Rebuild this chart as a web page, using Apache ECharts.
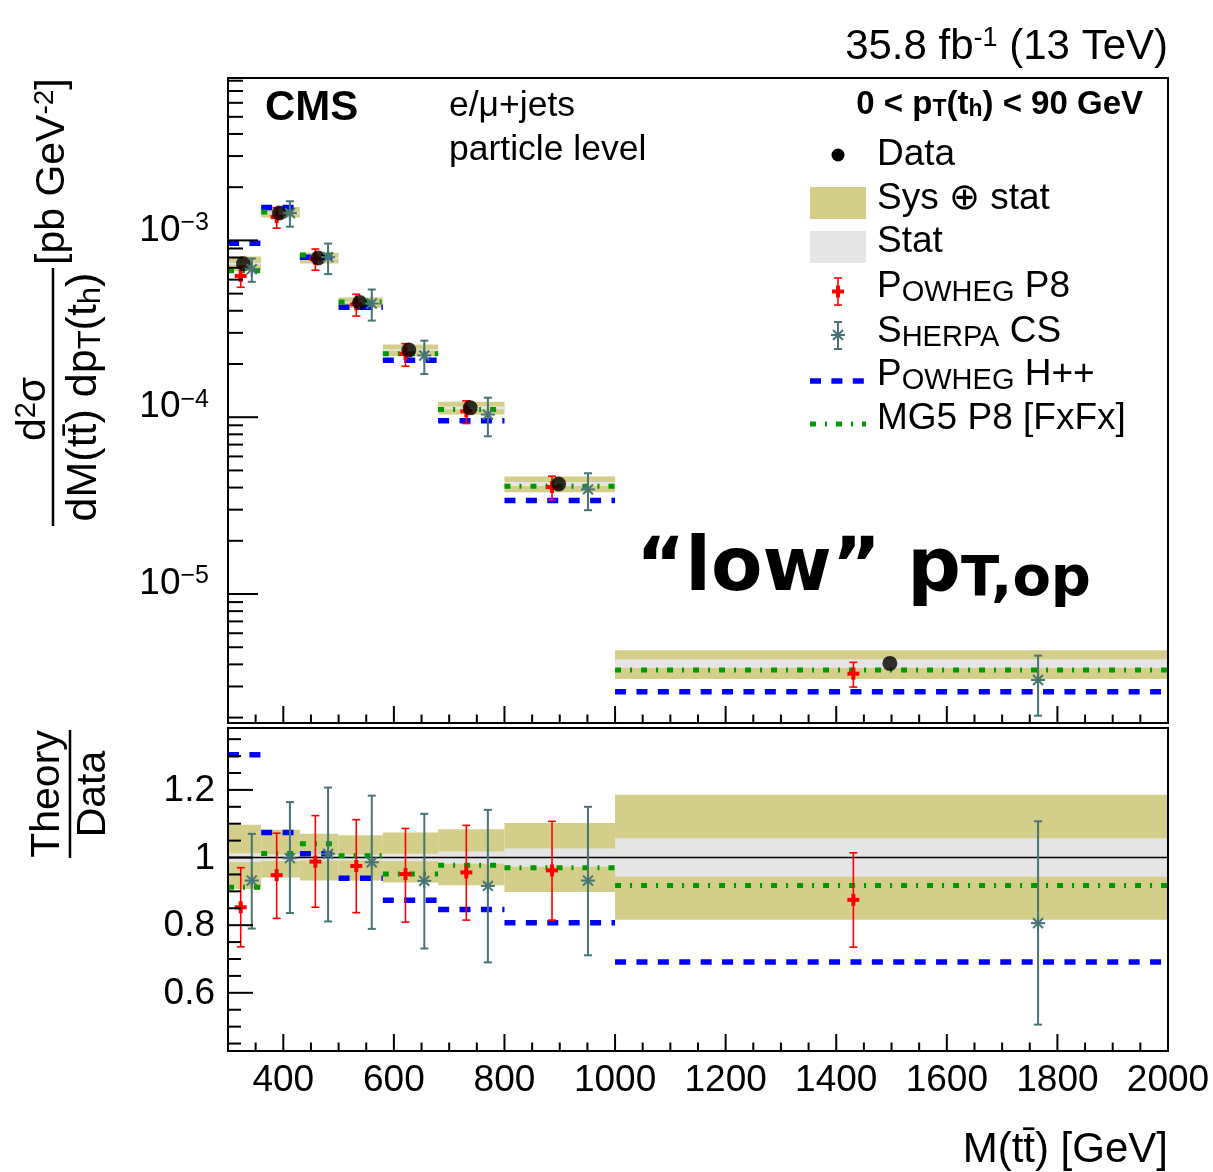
<!DOCTYPE html>
<html><head><meta charset="utf-8">
<script src="https://cdn.jsdelivr.net/npm/echarts@6/dist/echarts.min.js"></script>
<style>html,body{margin:0;padding:0;background:#fff}#c{width:1213px;height:1172px}</style>
</head><body><div id="c"></div>
<script>
// ---------------- data ----------------
const binEdges = [300, 360, 430, 500, 580, 680, 800, 1000, 2000];
const dataX = [328, 393, 463, 538, 627, 738, 898, 1497];
const dataY = [7.38e-4, 1.43e-3, 7.95e-4, 4.46e-4, 2.40e-4, 1.13e-4, 4.19e-5, 4.05e-6];
// uncertainty bands, relative to data
const sysUp = [1.097, 1.082, 1.070, 1.066, 1.074, 1.084, 1.102, 1.186];
const sysDn = [0.907, 0.941, 0.932, 0.932, 0.926, 0.918, 0.898, 0.816];
const statUp = [1.013, 1.010, 1.009, 1.009, 1.011, 1.018, 1.027, 1.057];
const statDn = [0.987, 0.990, 0.991, 0.991, 0.989, 0.982, 0.973, 0.943];
// POWHEG P8 (theory / data)
const p8X = [323, 388, 458, 532, 621, 731, 886, 1431];
const p8Ratio = [0.853, 0.948, 0.988, 0.975, 0.951, 0.956, 0.962, 0.875];
const p8Lo = [0.736, 0.820, 0.853, 0.837, 0.809, 0.815, 0.815, 0.735];
const p8Hi = [0.970, 1.072, 1.124, 1.112, 1.086, 1.095, 1.107, 1.014];
// SHERPA CS (theory / data)
const shX = [343, 412, 481, 560, 655, 770, 951, 1765];
const shRatio = [0.932, 0.998, 1.011, 0.986, 0.931, 0.916, 0.932, 0.806];
const shLo = [0.790, 0.836, 0.811, 0.789, 0.731, 0.690, 0.711, 0.506];
const shHi = [1.070, 1.164, 1.207, 1.183, 1.129, 1.141, 1.150, 1.107];
// POWHEG H++ and MG5 P8 [FxFx] (theory / data)
const hppRatio = [1.304, 1.074, 1.011, 0.939, 0.874, 0.846, 0.807, 0.691];
const mg5Ratio = [0.912, 1.012, 1.041, 1.005, 0.951, 0.977, 0.970, 0.917];
// tick labels
const xTickLabels = [400, 600, 800, 1000, 1200, 1400, 1600, 1800, 2000];
const topDecades = [-5, -4, -3];
const ratioTickLabels = [0.6, 0.8, 1, 1.2];

// ---------------- styling ----------------
const FONT = '"Liberation Sans", Arial, Helvetica, sans-serif';
const WIDE = '"DejaVu Sans", Verdana, sans-serif';
const OLIVE = '#d3ce89', GREY = '#e5e5e5', RED = '#ff0000', TEAL = '#477575', BLUE = '#0000ff', GREEN = '#009900';
const X_MIN = 300, X_MAX = 2000;
const TOP_MIN = 1.864e-6, TOP_MAX = 8.29e-3;
const R_MIN = 0.428, R_MAX = 1.383;
const BLUE_DASH = [11, 10.4], GREEN_DASH = [6, 9, 2, 9];

const times = (a, b) => a.map((v, i) => v * b[i]);

function bandSeries(xi, yi, lo, hi, color, z) {
  return {
    type: 'custom', xAxisIndex: xi, yAxisIndex: yi, clip: false, silent: true, z,
    data: lo.map((v, i) => [binEdges[i], binEdges[i + 1], v, hi[i]]),
    renderItem(p, api) {
      const a = api.coord([api.value(0), api.value(3)]);
      const b = api.coord([api.value(1), api.value(2)]);
      return { type: 'rect', shape: { x: a[0], y: a[1], width: b[0] - a[0], height: b[1] - a[1] }, style: { fill: color } };
    }
  };
}
function histSeries(xi, yi, vals, color, dash, width, z) {
  return {
    type: 'custom', xAxisIndex: xi, yAxisIndex: yi, clip: false, silent: true, z,
    data: vals.map((v, i) => [binEdges[i], binEdges[i + 1], v]),
    renderItem(p, api) {
      const a = api.coord([api.value(0), api.value(2)]);
      const b = api.coord([api.value(1), api.value(2)]);
      return { type: 'line', shape: { x1: a[0], y1: a[1], x2: b[0], y2: b[1] },
        style: { stroke: color, lineWidth: width, lineDash: dash, lineCap: 'butt' } };
    }
  };
}
function markerEls(kind, cx, cy, ylo, yhi) {
  const color = kind === 'cross' ? RED : TEAL;
  const lw = kind === 'cross' ? 1.6 : 2;
  const cw = 4;
  const st = { stroke: color, lineWidth: lw };
  const els = [
    { type: 'line', shape: { x1: cx, y1: ylo, x2: cx, y2: yhi }, style: st },
    { type: 'line', shape: { x1: cx - cw, y1: ylo, x2: cx + cw, y2: ylo }, style: st },
    { type: 'line', shape: { x1: cx - cw, y1: yhi, x2: cx + cw, y2: yhi }, style: st }
  ];
  if (kind === 'cross') {
    els.push({ type: 'rect', shape: { x: cx - 6, y: cy - 2, width: 12, height: 4 }, style: { fill: color } });
    els.push({ type: 'rect', shape: { x: cx - 2, y: cy - 6, width: 4, height: 12 }, style: { fill: color } });
  } else {
    const r = 7;
    [0, 45, 90, 135].forEach(d => {
      const t = d * Math.PI / 180, dx = r * Math.cos(t), dy = r * Math.sin(t);
      els.push({ type: 'line', shape: { x1: cx - dx, y1: cy - dy, x2: cx + dx, y2: cy + dy }, style: { stroke: color, lineWidth: 2 } });
    });
  }
  return els;
}
function errSeries(xi, yi, xs, ys, los, his, kind, z) {
  return {
    type: 'custom', xAxisIndex: xi, yAxisIndex: yi, clip: false, silent: true, z,
    data: xs.map((x, i) => [x, ys[i], los[i], his[i]]),
    renderItem(p, api) {
      const c = api.coord([api.value(0), api.value(1)]);
      const lo = api.coord([api.value(0), api.value(2)]);
      const hi = api.coord([api.value(0), api.value(3)]);
      return { type: 'group', children: markerEls(kind, c[0], c[1], lo[1], hi[1]) };
    }
  };
}
// ticks: kind 0 x-minor, 1 x-major, 2 y-minor, 3 y-major
function tickSeries(xi, yi, items, lens) {
  return {
    type: 'custom', xAxisIndex: xi, yAxisIndex: yi, clip: false, silent: true, z: 20,
    data: items,
    renderItem(p, api) {
      const pt = api.coord([api.value(0), api.value(1)]);
      const k = api.value(2), L = lens[k];
      const shape = k >= 2 ? { x1: pt[0], y1: pt[1], x2: pt[0] + L, y2: pt[1] } : { x1: pt[0], y1: pt[1], x2: pt[0], y2: pt[1] - L };
      return { type: 'line', shape, style: { stroke: '#000', lineWidth: 2 } };
    }
  };
}
function frameSeries(xi, yi, ymin, ymax) {
  return {
    type: 'custom', xAxisIndex: xi, yAxisIndex: yi, clip: false, silent: true, z: 21,
    data: [[X_MIN, ymax, X_MAX, ymin]],
    renderItem(p, api) {
      const a = api.coord([api.value(0), api.value(1)]);
      const b = api.coord([api.value(2), api.value(3)]);
      return { type: 'rect', shape: { x: a[0], y: a[1], width: b[0] - a[0], height: b[1] - a[1] }, style: { fill: null, stroke: '#000', lineWidth: 2 } };
    }
  };
}

// tick positions
const xTicks = (ybase) => {
  const out = [];
  for (let v = 350; v < X_MAX; v += 50) out.push([v, ybase, v % 200 === 0 ? 1 : 0]);
  return out;
};
const topYTicks = [];
for (let e = -6; e <= -3; e++) for (let m = 1; m <= 9; m++) {
  const v = m * Math.pow(10, e);
  if (v > TOP_MIN && v < TOP_MAX) topYTicks.push([X_MIN, v, m === 1 ? 3 : 2]);
}
const ratioYTicks = [];
for (let k = 9; k <= 27; k++) ratioYTicks.push([X_MIN, k * 0.05, k % 4 === 0 ? 3 : 2]);

const topLabelSeries = {
  type: 'custom', xAxisIndex: 0, yAxisIndex: 0, clip: false, silent: true, z: 20,
  data: topDecades.map(e => [X_MIN, Math.pow(10, e), e]),
  renderItem(p, api) {
    const pt = api.coord([api.value(0), api.value(1)]);
    return { type: 'text', x: pt[0] - 19, y: pt[1] - 10, style: {
      text: '{b|10}{s|\u2212' + Math.abs(api.value(2)) + '}', align: 'right', verticalAlign: 'middle',
      rich: { b: { fontSize: 37, fontFamily: FONT, lineHeight: 40, fill: '#000' },
              s: { fontSize: 25, fontFamily: FONT, lineHeight: 25, verticalAlign: 'top', fill: '#000' } } } };
  }
};
const ratioLabelSeries = {
  type: 'custom', xAxisIndex: 1, yAxisIndex: 1, clip: false, silent: true, z: 20,
  data: ratioTickLabels.map(v => [X_MIN, v]),
  renderItem(p, api) {
    const pt = api.coord([api.value(0), api.value(1)]);
    return { type: 'text', x: pt[0] - 13, y: pt[1] + 1, style: {
      text: String(api.value(1)), align: 'right', verticalAlign: 'middle', fontSize: 37, fontFamily: FONT, fill: '#000' } };
  }
};
const unitLine = {
  type: 'custom', xAxisIndex: 1, yAxisIndex: 1, clip: false, silent: true, z: 3,
  data: [[X_MIN, X_MAX, 1]],
  renderItem(p, api) {
    const a = api.coord([api.value(0), api.value(2)]), b = api.coord([api.value(1), api.value(2)]);
    return { type: 'line', shape: { x1: a[0], y1: a[1], x2: b[0], y2: b[1] }, style: { stroke: '#000', lineWidth: 1.5 } };
  }
};

// ---------------- graphic texts / legend ----------------
const T = (x, y, text, extra) => ({ type: 'text', x, y, silent: true, z: 50,
  style: Object.assign({ text, fontFamily: FONT, fontSize: 37, fill: '#000', align: 'left', verticalAlign: 'middle' }, extra || {}) });
const rs = (fs, o) => Object.assign({ fontSize: fs, fontFamily: FONT, fill: '#000', lineHeight: fs }, o || {});

const legendText = (y, text, rich) => T(877, y, text, rich ? { rich } : {});
const smallCaps = { a: rs(37, { lineHeight: 40 }), c: rs(29, { lineHeight: 29, verticalAlign: 'bottom' }) };

const graphics = [
  // header
  T(1168, 47, '{n|35.8 fb}{s|-1}{n| (13 TeV)}', { align: 'right',
    rich: { n: rs(42, { lineHeight: 44 }), s: rs(27, { lineHeight: 27, verticalAlign: 'top' }) } }),
  T(265, 108, 'CMS', { fontSize: 42, fontWeight: 'bold' }),
  T(449, 106, 'e/\u03bc+jets', { fontSize: 35.5 }),
  T(449, 150, 'particle level', { fontSize: 35.5 }),
  T(1143, 104, '{b|0 < p}{u|T}{b|(t}{u|h}{b|) < 90 GeV}', { align: 'right',
    rich: { b: rs(33, { fontWeight: 'bold', lineHeight: 34, verticalAlign: 'bottom' }), u: rs(23, { fontWeight: 'bold', lineHeight: 2, verticalAlign: 'bottom' }) } }),
  // legend
  { type: 'circle', shape: { cx: 838, cy: 155, r: 6.5 }, style: { fill: '#000' }, z: 50 },
  legendText(155, 'Data'),
  { type: 'rect', shape: { x: 810, y: 187, width: 56, height: 32 }, style: { fill: OLIVE }, z: 50 },
  legendText(199, 'Sys \u2295 stat'),
  { type: 'rect', shape: { x: 810, y: 231, width: 56, height: 32 }, style: { fill: GREY }, z: 50 },
  legendText(242, 'Stat'),
  { type: 'group', z: 50, children: markerEls('cross', 838, 291.5, 305, 278) },
  legendText(287, '{a|P}{c|OWHEG}{a| P8}', smallCaps),
  { type: 'group', z: 50, children: markerEls('star', 838, 335, 349, 322) },
  legendText(332, '{a|S}{c|HERPA}{a| CS}', smallCaps),
  { type: 'line', shape: { x1: 810, y1: 381, x2: 866, y2: 381 }, style: { stroke: BLUE, lineWidth: 5.5, lineDash: BLUE_DASH }, z: 50 },
  legendText(375, '{a|P}{c|OWHEG}{a| H++}', smallCaps),
  { type: 'line', shape: { x1: 810, y1: 424, x2: 866, y2: 424 }, style: { stroke: GREEN, lineWidth: 5, lineDash: GREEN_DASH }, z: 50 },
  legendText(419, 'MG5 P8 [FxFx]'),
  // big label
  T(636, 563, '{b|\u201clow\u201d p}{u|T,op}', {
    rich: { b: { fontSize: 75, fontFamily: WIDE, fontWeight: 'bold', fill: '#000', lineHeight: 90, verticalAlign: 'bottom' },
            u: { fontSize: 56, fontFamily: WIDE, fontWeight: 'bold', fill: '#000', lineHeight: 68, verticalAlign: 'bottom' } } }),
  // x title
  T(1168, 1150, 'M(tt\u0304) [GeV]', { align: 'right', fontSize: 42 }),
  // y title (top)
  { type: 'group', x: 53, y: 397, rotation: Math.PI / 2, z: 50, children: [
    { type: 'line', shape: { x1: -129, y1: 0, x2: 129, y2: 0 }, style: { stroke: '#000', lineWidth: 2.5 } },
    { type: 'text', x: -12, y: -19, style: { text: '{n|d}{s|2}{n|\u03c3}', align: 'center', verticalAlign: 'middle',
      rich: { n: rs(41, { lineHeight: 44 }), s: rs(29, { lineHeight: 29, verticalAlign: 'top' }) } } },
    { type: 'text', x: 0, y: 31, style: { text: '{n|dM(tt\u0304) dp}{u|T}{n|(t}{u|h}{n|)}', align: 'center', verticalAlign: 'middle',
      rich: { n: rs(43, { lineHeight: 46 }), u: rs(31, { lineHeight: 26, verticalAlign: 'bottom' }) } } },
    { type: 'text', x: 132, y: 0, style: { text: '{n|[pb GeV}{s|-2}{n|]}', align: 'left', verticalAlign: 'middle',
      rich: { n: rs(41, { lineHeight: 44 }), s: rs(28, { lineHeight: 28, verticalAlign: 'top' }) } } }
  ] },
  // y title (ratio)
  { type: 'group', x: 70, y: 794, rotation: Math.PI / 2, z: 50, children: [
    { type: 'line', shape: { x1: -64, y1: 0, x2: 64, y2: 0 }, style: { stroke: '#000', lineWidth: 2.5 } },
    { type: 'text', x: 0, y: -22, style: { text: 'Theory', align: 'center', verticalAlign: 'middle', fontSize: 41, fontFamily: FONT, fill: '#000' } },
    { type: 'text', x: 0, y: 24, style: { text: 'Data', align: 'center', verticalAlign: 'middle', fontSize: 41, fontFamily: FONT, fill: '#000' } }
  ] }
];

// ---------------- option ----------------
const hidden = { axisLine: { show: false }, axisTick: { show: false }, axisLabel: { show: false }, splitLine: { show: false } };
const option = {
  animation: false,
  backgroundColor: '#fff',
  grid: [
    { left: 228, top: 78, width: 940, height: 645 },
    { left: 228, top: 728, width: 940, height: 323 }
  ],
  xAxis: [
    Object.assign({ type: 'value', gridIndex: 0, min: X_MIN, max: X_MAX, interval: 100 }, hidden),
    Object.assign({ type: 'value', gridIndex: 1, min: X_MIN, max: X_MAX, interval: 100 }, hidden, {
      axisLabel: { show: true, margin: 11, fontSize: 37, fontFamily: FONT, color: '#000',
        formatter: v => (xTickLabels.indexOf(v) >= 0 ? String(v) : '') } })
  ],
  yAxis: [
    Object.assign({ type: 'log', logBase: 10, gridIndex: 0, min: TOP_MIN, max: TOP_MAX }, hidden),
    Object.assign({ type: 'value', gridIndex: 1, min: R_MIN, max: R_MAX }, hidden)
  ],
  graphic: graphics,
  series: [
    // top panel
    bandSeries(0, 0, times(dataY, sysDn), times(dataY, sysUp), OLIVE, 1),
    bandSeries(0, 0, times(dataY, statDn), times(dataY, statUp), GREY, 2),
    histSeries(0, 0, times(dataY, hppRatio), BLUE, BLUE_DASH, 5.5, 3),
    histSeries(0, 0, times(dataY, mg5Ratio), GREEN, GREEN_DASH, 5, 3),
    errSeries(0, 0, p8X, times(dataY, p8Ratio), times(dataY, p8Lo), times(dataY, p8Hi), 'cross', 4),
    { type: 'scatter', xAxisIndex: 0, yAxisIndex: 0, z: 5, silent: true, symbol: 'circle', symbolSize: 15,
      itemStyle: { color: '#000' }, data: dataX.map((x, i) => [x, dataY[i]]) },
    errSeries(0, 0, shX, times(dataY, shRatio), times(dataY, shLo), times(dataY, shHi), 'star', 6),
    tickSeries(0, 0, xTicks(TOP_MIN), [8.5, 17, 15, 30]),
    tickSeries(0, 0, topYTicks, [8.5, 17, 15, 30]),
    topLabelSeries,
    frameSeries(0, 0, TOP_MIN, TOP_MAX),
    // ratio panel
    bandSeries(1, 1, sysDn, sysUp, OLIVE, 1),
    bandSeries(1, 1, statDn, statUp, GREY, 2),
    unitLine,
    histSeries(1, 1, hppRatio, BLUE, BLUE_DASH, 5.5, 3),
    histSeries(1, 1, mg5Ratio, GREEN, GREEN_DASH, 5, 3),
    errSeries(1, 1, p8X, p8Ratio, p8Lo, p8Hi, 'cross', 4),
    errSeries(1, 1, shX, shRatio, shLo, shHi, 'star', 6),
    tickSeries(1, 1, xTicks(R_MIN), [8.5, 17, 13, 25]),
    tickSeries(1, 1, ratioYTicks, [8.5, 17, 13, 25]),
    ratioLabelSeries,
    frameSeries(1, 1, R_MIN, R_MAX)
  ]
};
const chart = echarts.init(document.getElementById('c'), null, { renderer: 'canvas' });
chart.setOption(option);
</script></body></html>
